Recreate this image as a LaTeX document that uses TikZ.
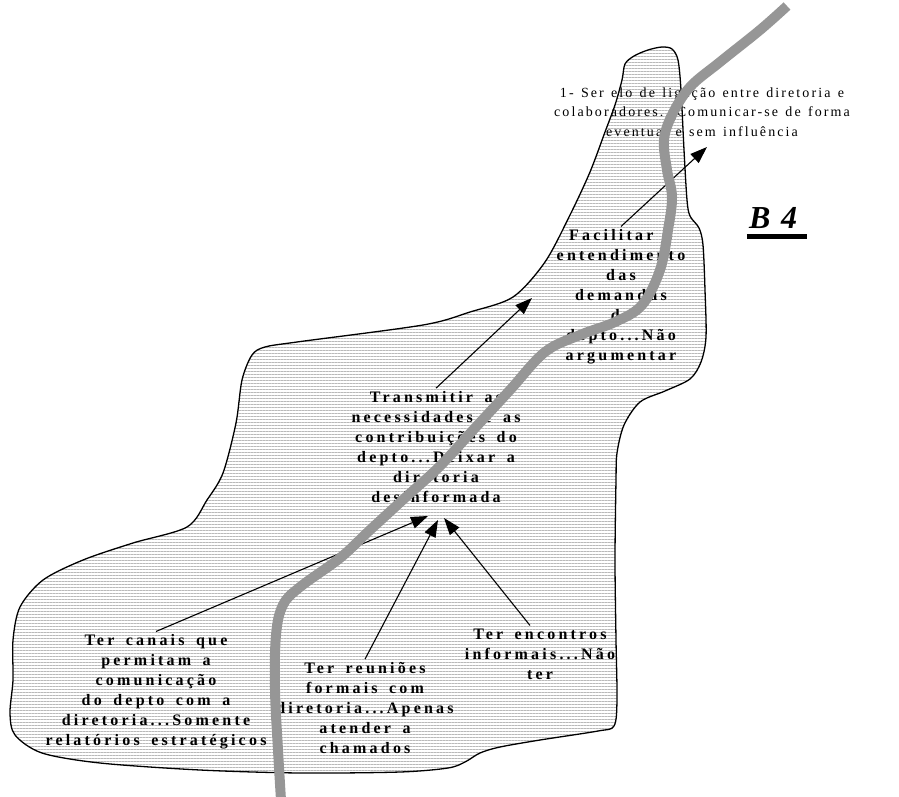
\documentclass[tikz,border=0pt]{standalone}
\usepackage{fontspec}
\setmainfont{Liberation Serif}
\newfontfamily\lblfont{Liberation Serif}[LetterSpace=20,WordSpace=1.6]
\newfontfamily\notefont{Liberation Serif}[LetterSpace=15,WordSpace=1.3]
\usetikzlibrary{arrows.meta,patterns.meta}
\definecolor{rivergray}{RGB}{150,150,150}

\tikzset{
  lbl/.style={font={\lblfont\bfseries\fontsize{16}{20}\selectfont}, align=center, inner sep=3pt},
  note/.style={font={\notefont\fontsize{14}{19.5}\selectfont}, align=center, inner sep=2pt},
  arr/.style={-{Triangle[length=17pt,width=12pt]}, line width=1.1pt},
  river/.style={line width=10pt, draw=rivergray},
  blob/.style={draw, line width=1.3pt, pattern={Lines[distance=3pt,angle=0,line width=0.5pt]}, pattern color=gray!55},
}

\begin{document}
\begin{tikzpicture}[x=1pt,y=-1pt]
\useasboundingbox (0,0) rectangle (899,797);

% area
\draw[blob] plot[smooth cycle, tension=0.5] coordinates {
  (625,64) (634,56) (648,50) (662,47) (672,49) (678,60) (681,90) (684,150)
  (687,200) (690,216) (699,228) (703,245) (705,290) (706,337) (701,362)
  (690,379) (665,391) (640,402) (624,425) (617,453) (616,480) (615,560)
  (616,640) (617,700) (614,726) (598,731) (540,740) (500,747) (480,753)
  (465,762) (448,768) (400,772) (300,773) (200,770) (100,763) (42,753)
  (15,735) (10,713) (13,680) (13,640) (20,607) (43,580) (83,560) (133,543)
  (187,527) (207,500) (223,473) (236,423) (242,380) (252,355) (265,347)
  (297,342) (423,325) (470,312) (513,297) (545,262) (570,215) (590,172)
  (605,132) (615,105) (622,80)};

% texts
\node[note] (elo) at (702,112) {1- Ser elo de ligação entre diretoria e\\colaboradores...Comunicar-se de forma\\eventual e sem influência};
\node[lbl] (facil) at (621,297) {Facilitar o\\entendimento\\das\\demandas\\do\\depto...Não\\argumentar};
\node[lbl] (trans) at (436,447) {Transmitir as\\necessidades e as\\contribuições do\\depto...Deixar a\\diretoria\\desinformada};
\node[lbl] (canais) at (156,692) {Ter canais que\\permitam a\\comunicação\\do depto com a\\diretoria...Somente\\relatórios estratégicos};
\node[lbl] (reun) at (365,708) {Ter reuniões\\formais com\\diretoria...Apenas\\atender a\\chamados};
\node[lbl] (enc) at (540,654) {Ter encontros\\informais...Não\\ter};
\node[font={\bfseries\itshape\fontsize{32}{32}\selectfont}, inner sep=0pt] (bfour) at (773,218) {B\,\,4};
\draw[line width=5pt] ([xshift=-2pt,yshift=-8pt]bfour.south west) -- ([xshift=10pt,yshift=-8pt]bfour.south east);

% arrows
\coordinate (facTip) at (707,147);
\coordinate (traTip) at (532,298);
\coordinate (hubA) at (428,516);
\coordinate (hubB) at (438,520);
\coordinate (hubC) at (444,518);
\draw[arr] (facil.north) -- (facTip);
\draw[arr] (trans.north) -- (traTip);
\draw[arr] (canais.north) -- (hubA);
\draw[arr] (reun.north) -- (hubB);
\draw[arr] ([xshift=-10pt]enc.north) -- (hubC);

% river
\draw[river] plot[smooth, tension=0.6] coordinates {
  (787,6) (760,30) (720,62) (690,87) (672,115) (664,140) (667,170) (672,197)
  (668,230) (660,270) (642,305) (615,322) (580,335) (545,352) (510,390)
  (475,428) (440,466) (406,497) (370,530) (340,558) (300,587) (283,605)
  (276,635) (275,690) (278,750) (281,800)};
\end{tikzpicture}
\end{document}
